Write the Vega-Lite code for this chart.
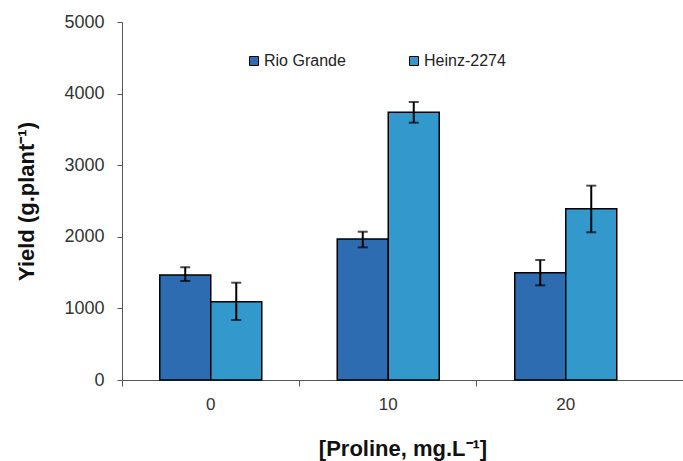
{
  "$schema": "https://vega.github.io/schema/vega-lite/v6.json",
  "width": 561,
  "height": 358,
  "autosize": "none",
  "padding": {"left": 122, "top": 22, "right": 0, "bottom": 81},
  "background": "white",
  "config": {
    "font": "Liberation Sans",
    "view": {"stroke": null},
    "axis": {"grid": false, "domainColor": "#555", "tickColor": "#555", "labelColor": "#333", "titleColor": "#111"}
  },
  "data": {
    "values": [
      {"proline": "0", "variety": "Rio Grande", "yield": 1468, "lo": 1383, "hi": 1575},
      {"proline": "0", "variety": "Heinz-2274", "yield": 1094, "lo": 838, "hi": 1359},
      {"proline": "10", "variety": "Rio Grande", "yield": 1969, "lo": 1853, "hi": 2071},
      {"proline": "10", "variety": "Heinz-2274", "yield": 3739, "lo": 3594, "hi": 3883},
      {"proline": "20", "variety": "Rio Grande", "yield": 1499, "lo": 1322, "hi": 1676},
      {"proline": "20", "variety": "Heinz-2274", "yield": 2393, "lo": 2063, "hi": 2714}
    ]
  },
  "encoding": {
    "x": {
      "field": "proline", "type": "nominal", "sort": ["0", "10", "20"],
      "scale": {"paddingInner": 0, "paddingOuter": 0.0803, "align": 0},
      "axis": {"title": "[Proline, mg.L⁻¹]", "titleFontSize": 22, "titleFontWeight": "bold", "titlePadding": 26,
               "labelAngle": 0, "labelFontSize": 17, "labelPadding": 10, "tickSize": 6,
               "bandPosition": 0}
    },
    "xOffset": {
      "field": "variety", "type": "nominal", "sort": ["Rio Grande", "Heinz-2274"],
      "scale": {"paddingInner": 0, "paddingOuter": 0.74}
    }
  },
  "layer": [
    {
      "mark": {"type": "bar", "stroke": "black", "strokeWidth": 1.5},
      "encoding": {
        "y": {
          "field": "yield", "type": "quantitative",
          "scale": {"domain": [0, 5000], "nice": false},
          "axis": {"title": "Yield (g.plant⁻¹)", "titleFontSize": 22, "titleFontWeight": "bold", "titlePadding": 25,
                   "values": [0, 1000, 2000, 3000, 4000, 5000], "format": "d", "labelFontSize": 18, "labelPadding": 13, "tickSize": 5}
        },
        "color": {
          "field": "variety", "type": "nominal", "sort": ["Rio Grande", "Heinz-2274"],
          "scale": {"domain": ["Rio Grande", "Heinz-2274"], "range": ["#2e6cb2", "#3399cc"]},
          "legend": {"title": null, "orient": "none", "legendX": 124, "legendY": 31, "direction": "horizontal",
                     "symbolType": "square", "symbolSize": 81, "symbolStrokeColor": "black", "symbolStrokeWidth": 1,
                     "labelFontSize": 16, "labelColor": "#222", "labelOffset": 2, "columnPadding": 60}
        }
      }
    },
    {
      "mark": {"type": "rule", "color": "black", "strokeWidth": 2},
      "encoding": {"y": {"field": "lo", "type": "quantitative"}, "y2": {"field": "hi"}}
    },
    {
      "mark": {"type": "tick", "color": "black", "thickness": 2, "size": 10},
      "encoding": {"y": {"field": "lo", "type": "quantitative"}}
    },
    {
      "mark": {"type": "tick", "color": "black", "thickness": 2, "size": 10},
      "encoding": {"y": {"field": "hi", "type": "quantitative"}}
    }
  ]
}
